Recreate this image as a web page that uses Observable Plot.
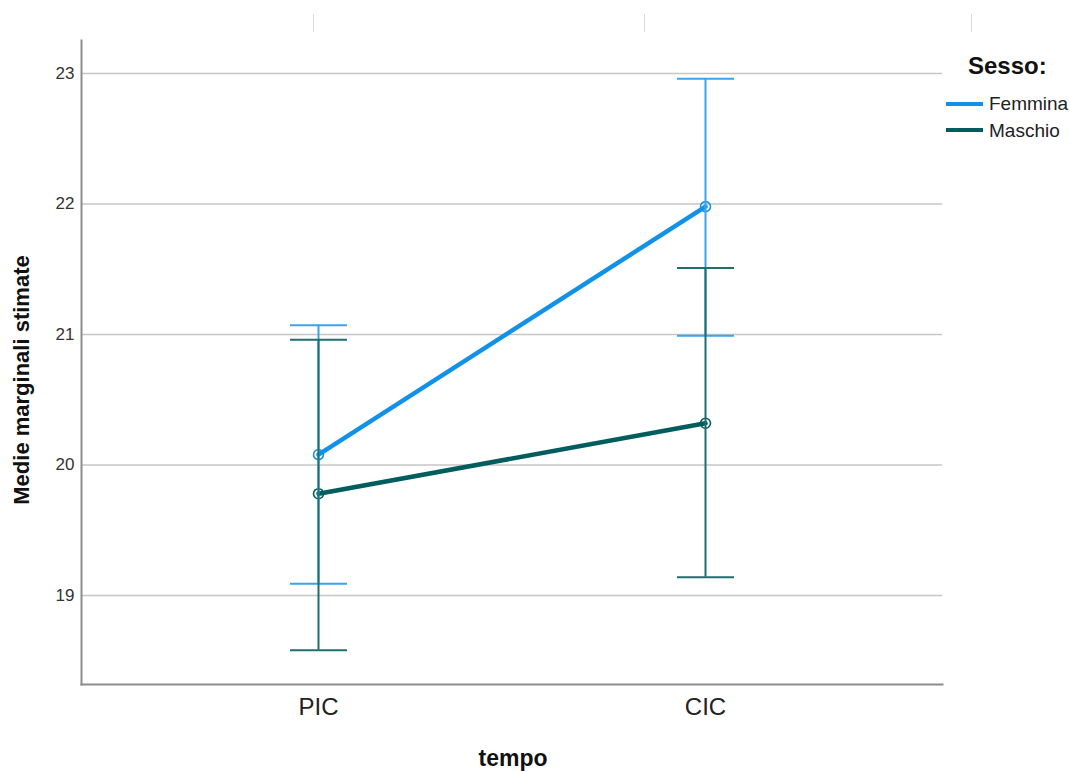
<!DOCTYPE html>
<html>
<head>
<meta charset="utf-8">
<script src="https://cdn.jsdelivr.net/npm/d3@7"></script>
<script src="https://cdn.jsdelivr.net/npm/@observablehq/plot@0.6"></script>
<style>
  html, body { margin: 0; padding: 0; background: #fff; }
  body { font-family: "Liberation Sans", Arial, sans-serif; }
  #wrap { position: relative; width: 1070px; height: 772px; overflow: hidden; }
  .ov { position: absolute; white-space: nowrap; line-height: 1; color: #111; }
  .ylab { left: 22px; top: 380px; font-size: 22px; font-weight: bold; transform: translate(-50%, -50%) rotate(-90deg); }
  .xlab { left: 513px; top: 747px; font-size: 23px; font-weight: bold; transform: translateX(-50%); }
  .legtitle { left: 968px; top: 54px; font-size: 24px; font-weight: bold; }
  .legitem { left: 989px; font-size: 19px; color: #222; }
  .sw { position: absolute; left: 946px; width: 37px; height: 4px; }
  .art { position: absolute; top: 14px; width: 1px; height: 18px; background: #dcdcdc; }
</style>
</head>
<body>
<div id="wrap"></div>
<script>
// ---- data ----
const tempi = ["PIC", "CIC"];
const sessi = ["Femmina", "Maschio"];
const mediaFemmina = [20.08, 21.98];
const loFemmina = [19.09, 20.99];
const hiFemmina = [21.07, 22.96];
const mediaMaschio = [19.78, 20.32];
const loMaschio = [18.58, 19.14];
const hiMaschio = [20.96, 21.51];
const yTicks = [19, 20, 21, 22, 23];
const yDomain = [18.318, 23.253];

const lineColor = { Femmina: "#1192e8", Maschio: "#005d5d" };
const errColor = { Femmina: "#3ba3ee", Maschio: "#1f6f6f" };

const rows = [];
tempi.forEach((t, i) => {
  rows.push({ sesso: "Femmina", tempo: t, media: mediaFemmina[i], lo: loFemmina[i], hi: hiFemmina[i] });
  rows.push({ sesso: "Maschio", tempo: t, media: mediaMaschio[i], lo: loMaschio[i], hi: hiMaschio[i] });
});
const of = s => rows.filter(d => d.sesso === s);

// horizontal cap symbol for error bars
const capSymbol = {
  draw(ctx, size) {
    const r = Math.sqrt(size / Math.PI);
    ctx.moveTo(-r, 0);
    ctx.lineTo(r, 0);
  }
};

const errMarks = s => [
  Plot.ruleX(of(s), { x: "tempo", y1: "lo", y2: "hi", stroke: errColor[s], strokeWidth: 2 }),
  Plot.dot(of(s), { x: "tempo", y: "lo", symbol: capSymbol, r: 28.5, stroke: errColor[s], strokeWidth: 2, fill: "none" }),
  Plot.dot(of(s), { x: "tempo", y: "hi", symbol: capSymbol, r: 28.5, stroke: errColor[s], strokeWidth: 2, fill: "none" })
];

const chart = Plot.plot({
  width: 1070,
  height: 772,
  marginLeft: 81,
  marginRight: 128,
  marginTop: 40,
  marginBottom: 88,
  style: { fontFamily: "Liberation Sans, Arial, sans-serif", background: "#fff", overflow: "visible" },
  x: { type: "point", domain: tempi, padding: 0.61, label: null },
  y: { domain: yDomain, label: null },
  marks: [
    Plot.gridY(yTicks, { stroke: "#c6c6c6", strokeOpacity: 1, strokeWidth: 1.6 }),
    Plot.axisY(yTicks, { tickSize: 0, tickPadding: 7, fontSize: 17, fill: "#333", label: null, tickFormat: d3.format("d") }),
    Plot.axisX({ tickSize: 0, tickPadding: 13, fontSize: 24, fill: "#222", label: null }),
    Plot.frame({ anchor: "left", stroke: "#8c8c8c", strokeWidth: 2 }),
    Plot.frame({ anchor: "bottom", stroke: "#8c8c8c", strokeWidth: 2 }),
    ...sessi.map(s => Plot.line(of(s), { x: "tempo", y: "media", stroke: lineColor[s], strokeWidth: 4.5 })),
    ...sessi.map(s => Plot.dot(of(s), { x: "tempo", y: "media", r: 5, stroke: lineColor[s], strokeWidth: 1.6, fill: "none" })),
    ...errMarks("Femmina"),
    ...errMarks("Maschio")
  ]
});

const wrap = document.getElementById("wrap");
wrap.appendChild(chart);

// titles and legend
function add(cls, text, style) {
  const d = document.createElement("div");
  d.className = cls;
  if (text != null) d.textContent = text;
  if (style) Object.assign(d.style, style);
  wrap.appendChild(d);
  return d;
}
add("ov ylab", "Medie marginali stimate");
add("ov xlab", "tempo");
add("ov legtitle", "Sesso:");
const legTops = [103.5, 130];
sessi.forEach((s, i) => {
  add("sw", null, { top: (legTops[i] - 2) + "px", background: lineColor[s] });
  add("ov legitem", s, { top: (legTops[i] - 9.5) + "px" });
});
// faint marks at the top of the image
[313, 644, 971].forEach(x => add("art", null, { left: x + "px" }));
</script>
</body>
</html>
